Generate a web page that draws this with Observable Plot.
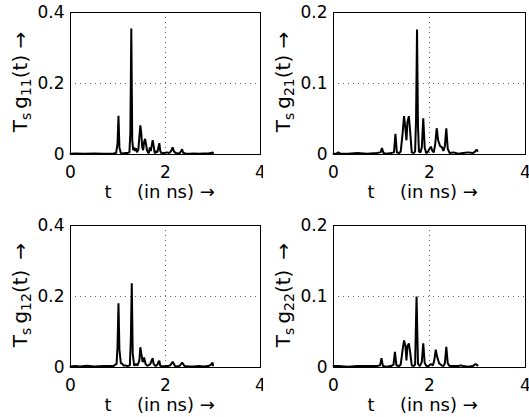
<!DOCTYPE html>
<html><head><meta charset="utf-8">
<script src="https://cdn.jsdelivr.net/npm/d3@7"></script>
<script src="https://cdn.jsdelivr.net/npm/@observablehq/plot@0.6"></script>
<style>
body{margin:0;background:#fff;}
#wrap{position:relative;width:529px;height:417px;overflow:hidden;}
.panel{position:absolute;}
</style>
</head><body><div id="wrap"></div>
<script>
// time axis ticks (ns)
const xTicks = [0, 2, 4];

// g11 (top-left)
const t11 = [0,0.1,0.3,0.5,0.7,0.9,0.96,0.99,1.01,1.03,1.06,1.1,1.15,1.2,1.24,1.26,1.28,1.30,1.32,1.34,1.36,1.38,1.40,1.43,1.45,1.47,1.49,1.51,1.53,1.55,1.57,1.59,1.61,1.63,1.65,1.67,1.69,1.71,1.73,1.75,1.77,1.79,1.81,1.83,1.85,1.87,1.89,1.92,1.96,2.0,2.04,2.08,2.12,2.15,2.18,2.22,2.26,2.30,2.33,2.35,2.37,2.42,2.5,2.6,2.7,2.8,2.9,2.96,2.99,3.0];
const g11 = [0.002,0.003,0.002,0.003,0.002,0.003,0.004,0.03,0.109,0.02,0.004,0.003,0.004,0.004,0.006,0.06,0.355,0.04,0.012,0.02,0.01,0.018,0.006,0.015,0.05,0.082,0.06,0.02,0.012,0.035,0.044,0.03,0.012,0.006,0.004,0.02,0.01,0.025,0.040,0.025,0.006,0.004,0.01,0.006,0.02,0.032,0.01,0.003,0.004,0.005,0.006,0.004,0.01,0.02,0.008,0.004,0.003,0.004,0.01,0.015,0.005,0.003,0.002,0.003,0.002,0.003,0.003,0.004,0.006,0.004];

// g21 (top-right)
const t21 = [0,0.05,0.1,0.15,0.3,0.5,0.7,0.9,0.98,1.01,1.04,1.1,1.2,1.26,1.29,1.32,1.36,1.40,1.44,1.47,1.50,1.52,1.54,1.57,1.60,1.63,1.67,1.70,1.72,1.74,1.76,1.78,1.81,1.84,1.87,1.90,1.93,1.97,2.0,2.03,2.06,2.09,2.12,2.15,2.18,2.22,2.26,2.29,2.32,2.35,2.38,2.42,2.5,2.6,2.7,2.8,2.9,2.95,2.98,3.0];
const g21 = [0.001,0.001,0.003,0.001,0.001,0.002,0.001,0.002,0.003,0.009,0.002,0.001,0.002,0.003,0.029,0.003,0.002,0.004,0.03,0.054,0.035,0.02,0.045,0.054,0.03,0.003,0.002,0.004,0.05,0.176,0.04,0.004,0.003,0.01,0.051,0.01,0.002,0.004,0.008,0.011,0.005,0.003,0.015,0.037,0.02,0.012,0.01,0.005,0.012,0.037,0.008,0.002,0.003,0.001,0.002,0.003,0.002,0.004,0.007,0.005];

// g12 (bottom-left)
const t12 = [0,0.1,0.2,0.35,0.5,0.7,0.9,0.97,0.99,1.01,1.03,1.06,1.09,1.12,1.16,1.2,1.25,1.27,1.29,1.31,1.34,1.38,1.41,1.45,1.47,1.49,1.52,1.55,1.58,1.61,1.64,1.68,1.71,1.73,1.75,1.79,1.83,1.85,1.87,1.89,1.95,2.0,2.05,2.1,2.15,2.2,2.25,2.3,2.35,2.4,2.5,2.6,2.7,2.8,2.9,2.96,2.99,3.0];
const g12 = [0.003,0.004,0.003,0.005,0.003,0.004,0.004,0.01,0.06,0.181,0.05,0.012,0.01,0.005,0.006,0.004,0.006,0.08,0.237,0.04,0.005,0.01,0.005,0.02,0.057,0.04,0.015,0.028,0.01,0.005,0.006,0.01,0.02,0.026,0.01,0.004,0.008,0.015,0.019,0.005,0.003,0.004,0.004,0.006,0.016,0.004,0.003,0.005,0.014,0.004,0.003,0.003,0.004,0.003,0.004,0.008,0.014,0.006];

// g22 (bottom-right)
const t22 = [0,0.1,0.3,0.5,0.7,0.9,0.97,1.0,1.03,1.1,1.2,1.25,1.28,1.31,1.36,1.40,1.44,1.47,1.50,1.52,1.54,1.57,1.60,1.63,1.67,1.70,1.73,1.76,1.80,1.84,1.87,1.90,1.94,1.98,2.03,2.07,2.10,2.13,2.16,2.20,2.25,2.29,2.32,2.35,2.38,2.42,2.5,2.6,2.65,2.7,2.8,2.9,2.96,3.0];
const g22 = [0.002,0.002,0.001,0.002,0.002,0.002,0.003,0.013,0.002,0.001,0.002,0.004,0.022,0.003,0.002,0.004,0.025,0.038,0.03,0.01,0.03,0.034,0.02,0.003,0.002,0.004,0.1,0.005,0.002,0.008,0.034,0.006,0.002,0.002,0.005,0.003,0.01,0.025,0.015,0.006,0.003,0.002,0.006,0.029,0.006,0.002,0.002,0.002,0.003,0.002,0.001,0.002,0.005,0.003];

const yTicksLeft = [0, 0.2, 0.4];
const yTicksRight = [0, 0.1, 0.2];
const subs = ["11", "21", "12", "22"];
const xLabelT = "t";
const xLabelUnit = "(in ns) →";

const FONT = "DejaVu Sans, sans-serif";

function panel(t, g, yTicks, sub, left, top, width) {
  const data = t.map((x, i) => ({t: x, v: g[i]}));
  const plot = Plot.plot({
    width, height: 204,
    marginLeft: 70, marginRight: 4, marginTop: 12, marginBottom: 50,
    style: {fontFamily: FONT, fontSize: "17px", color: "black", background: "white", overflow: "visible"},
    x: {domain: [0, 4]},
    y: {domain: [0, yTicks[2]]},
    marks: [
      Plot.ruleX([xTicks[1]], {stroke: "#666", strokeDasharray: "1,4"}),
      Plot.ruleY([yTicks[1]], {stroke: "#666", strokeDasharray: "1,4"}),
      Plot.line(data, {x: "t", y: "v", stroke: "black", strokeWidth: 2, strokeLinejoin: "miter"}),
      Plot.frame({stroke: "black", strokeWidth: 1}),
      Plot.axisX({ticks: xTicks, tickSize: 0, tickPadding: 11, label: null, tickFormat: d => String(d)}),
      Plot.axisY({ticks: yTicks, tickSize: 0, tickPadding: 6, label: null, tickFormat: d => String(d)})
    ]
  });
  plot.classList.add("panel");
  plot.style.left = left + "px";
  plot.style.top = top + "px";
  const svg = d3.select(plot);
  const fx = svg.append("g").attr("font-family", FONT).attr("font-size", 18).attr("fill", "black");
  fx.append("text").attr("x", 108).attr("y", 198).attr("text-anchor", "middle").text(xLabelT);
  fx.append("text").attr("x", 137).attr("y", 198).attr("text-anchor", "start").text(xLabelUnit);
  const ty = svg.append("text")
    .attr("font-family", FONT).attr("font-size", 20).attr("fill", "black")
    .attr("text-anchor", "middle")
    .attr("transform", "translate(27,82) rotate(-90)");
  ty.append("tspan").text("T");
  ty.append("tspan").attr("font-size", 14).attr("dy", 4).text("s");
  ty.append("tspan").attr("dy", -4).text("\u2009g");
  ty.append("tspan").attr("font-size", 14).attr("dy", 4).text(sub);
  ty.append("tspan").attr("dy", -4).text("(t)" + (top > 0 ? "\u2002→" : " →"));
  document.getElementById("wrap").appendChild(plot);
}

panel(t11, g11, yTicksLeft, subs[0], 0, 0, 264);
panel(t21, g21, yTicksRight, subs[1], 263, 0, 266);
panel(t12, g12, yTicksLeft, subs[2], 0, 213, 264);
panel(t22, g22, yTicksRight, subs[3], 263, 213, 266);
</script>
</body></html>
